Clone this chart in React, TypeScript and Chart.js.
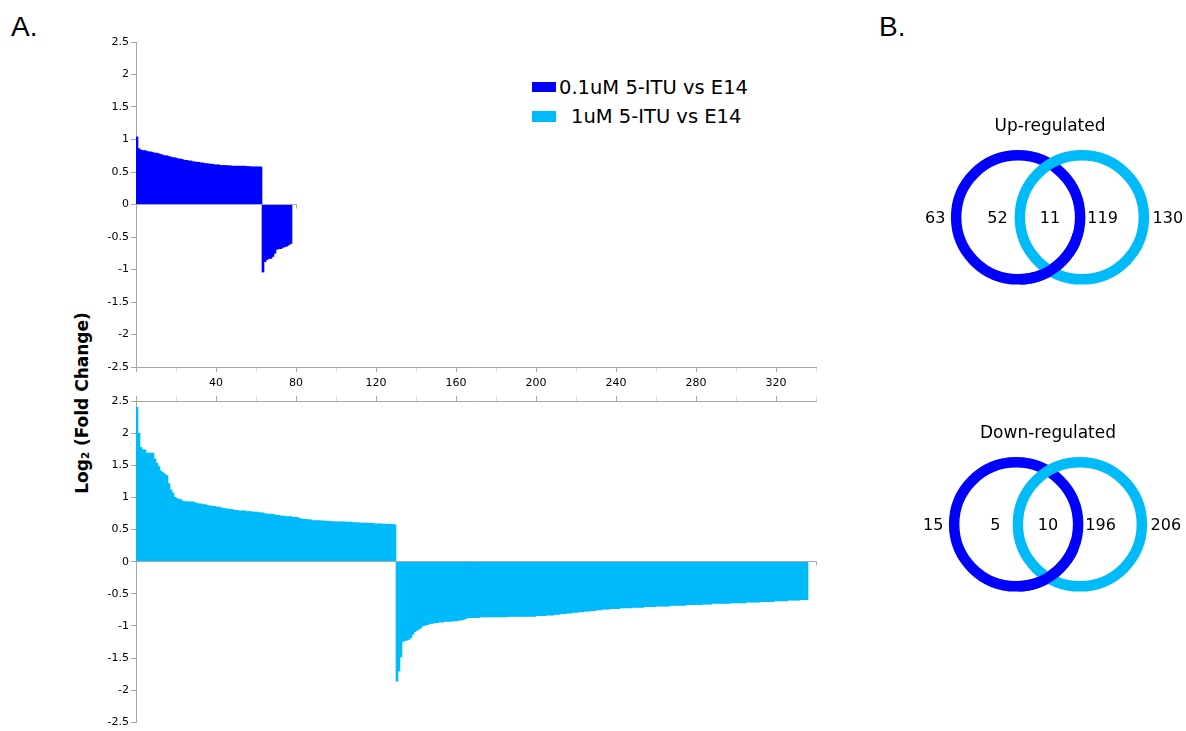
import React, { useEffect, useRef } from 'react';
import { Chart, registerables } from 'chart.js';

Chart.register(...registerables);

const BLUE = '#0000ff';
const CYAN = '#00bbf9';
const AXIS_GRAY = '#a6a6a6';
const MINOR_GRAY = '#dcdcdc';
const FONT = "'DejaVu Sans', sans-serif";
const ARIAL = "'Liberation Sans', Arial, sans-serif";

// ---- data ----
const seriesNames = ['0.1uM 5-ITU vs E14', '1uM 5-ITU vs E14'];

// 0.1uM 5-ITU vs E14, sorted log2 fold changes
const lowUp = [
  1.04, 0.86, 0.84, 0.83, 0.83, 0.82, 0.81, 0.81, 0.80, 0.79,
  0.79, 0.78, 0.77, 0.76, 0.75, 0.75, 0.74, 0.73, 0.72, 0.72,
  0.71, 0.70, 0.70, 0.69, 0.68, 0.68, 0.67, 0.67, 0.66, 0.655,
  0.65, 0.65, 0.64, 0.64, 0.63, 0.63, 0.625, 0.62, 0.62, 0.61,
  0.61, 0.61, 0.60, 0.60, 0.60, 0.60, 0.595, 0.595, 0.59, 0.59,
  0.59, 0.59, 0.59, 0.59, 0.59, 0.585, 0.585, 0.58, 0.58, 0.58,
  0.58, 0.58, 0.578,
];
const lowDown = [
  -1.04, -0.88, -0.85, -0.83, -0.83, -0.80, -0.75, -0.69, -0.68, -0.68,
  -0.66, -0.65, -0.64, -0.62, -0.60,
];

// 1uM 5-ITU vs E14, sorted log2 fold changes
const highUp = [
  2.40, 2.00, 1.78, 1.74, 1.74, 1.69, 1.69, 1.69, 1.69, 1.60,
  1.53, 1.48, 1.41, 1.385, 1.36, 1.34, 1.215, 1.12, 1.07, 1.00,
  0.985, 0.965, 0.965, 0.94, 0.935, 0.935, 0.93, 0.93, 0.93, 0.92,
  0.91, 0.90, 0.90, 0.89, 0.89, 0.88, 0.87, 0.87, 0.86, 0.86,
  0.85, 0.85, 0.84, 0.83, 0.83, 0.82, 0.82, 0.815, 0.81, 0.80,
  0.80, 0.79, 0.79, 0.79, 0.79, 0.78, 0.78, 0.78, 0.77, 0.77,
  0.77, 0.765, 0.76, 0.76, 0.75, 0.74, 0.74, 0.74, 0.735, 0.73,
  0.72, 0.72, 0.71, 0.71, 0.71, 0.70, 0.70, 0.70, 0.69, 0.69,
  0.69, 0.68, 0.67, 0.66, 0.66, 0.66, 0.65, 0.65, 0.64, 0.64,
  0.64, 0.64, 0.635, 0.635, 0.63, 0.63, 0.63, 0.625, 0.625, 0.62,
  0.62, 0.62, 0.62, 0.62, 0.62, 0.615, 0.615, 0.615, 0.61, 0.61,
  0.61, 0.605, 0.60, 0.60, 0.60, 0.60, 0.60, 0.595, 0.595, 0.59,
  0.59, 0.59, 0.59, 0.585, 0.585, 0.585, 0.58, 0.58, 0.58, 0.575,
];
const highDown = [
  -1.86, -1.70, -1.48, -1.24, -1.23, -1.22, -1.21, -1.18, -1.13, -1.09,
  -1.07, -1.05, -1.03, -1.00, -0.99, -0.98, -0.97, -0.96, -0.96, -0.95,
  -0.95, -0.94, -0.94, -0.94, -0.93, -0.93, -0.93, -0.93, -0.92, -0.92,
  -0.92, -0.91, -0.91, -0.90, -0.89, -0.88, -0.87, -0.87, -0.87, -0.87,
  -0.87, -0.87, -0.86, -0.86, -0.86, -0.86, -0.86, -0.86, -0.86, -0.86,
  -0.86, -0.86, -0.86, -0.86, -0.86, -0.86, -0.85, -0.85, -0.85, -0.85,
  -0.85, -0.85, -0.85, -0.85, -0.85, -0.85, -0.85, -0.85, -0.85, -0.85,
  -0.84, -0.84, -0.84, -0.84, -0.84, -0.83, -0.83, -0.83, -0.83, -0.82,
  -0.82, -0.82, -0.81, -0.81, -0.81, -0.80, -0.80, -0.80, -0.79, -0.79,
  -0.79, -0.78, -0.78, -0.78, -0.77, -0.77, -0.77, -0.76, -0.76, -0.76,
  -0.75, -0.75, -0.75, -0.74, -0.74, -0.74, -0.74, -0.73, -0.73, -0.73,
  -0.73, -0.73, -0.72, -0.72, -0.72, -0.72, -0.72, -0.72, -0.71, -0.71,
  -0.71, -0.71, -0.71, -0.71, -0.70, -0.70, -0.70, -0.70, -0.70, -0.70,
  -0.69, -0.69, -0.69, -0.69, -0.69, -0.69, -0.69, -0.68, -0.68, -0.68,
  -0.68, -0.68, -0.68, -0.68, -0.68, -0.67, -0.67, -0.67, -0.67, -0.67,
  -0.67, -0.67, -0.67, -0.66, -0.66, -0.66, -0.66, -0.66, -0.65, -0.65,
  -0.65, -0.65, -0.65, -0.65, -0.65, -0.65, -0.65, -0.64, -0.64, -0.64,
  -0.64, -0.64, -0.64, -0.64, -0.64, -0.63, -0.63, -0.63, -0.63, -0.63,
  -0.63, -0.63, -0.62, -0.62, -0.62, -0.62, -0.62, -0.62, -0.62, -0.61,
  -0.61, -0.61, -0.61, -0.61, -0.61, -0.61, -0.60, -0.60, -0.60, -0.60,
  -0.60, -0.60, -0.59, -0.59, -0.59, -0.59,
];

// axes
const yMin = -2.5;
const yMax = 2.5;
const yStep = 0.5;
const xMax = 340;
const xMinorStep = 20;
const xLabelStep = 40;
const lowAxisEnd = 80;
const highAxisEnd = 340;

// Venn diagrams
const vennUpTitle = 'Up-regulated';
const vennUpCounts = [63, 52, 11, 119, 130];
const vennDownTitle = 'Down-regulated';
const vennDownCounts = [15, 5, 10, 196, 206];

// label slots (in ring-centre units): total A, A only, both, B only, total B
const vennLabelSlots = [-3.6, -1.65, 0, 1.65, 3.7];

function toPoints(up: number[], down: number[]) {
  return [...up, ...down].map((y, i) => ({ x: i + 0.5, y }));
}

function zeroLinePlugin(axisEnd: number) {
  return {
    id: 'zeroLine',
    afterDatasetsDraw(chart: any) {
      const { ctx } = chart;
      const { x, y } = chart.scales;
      const y0 = Math.floor(y.getPixelForValue(0)) + 0.5;
      const x0 = x.getPixelForValue(0);
      const x1 = Math.floor(x.getPixelForValue(axisEnd)) + 0.5;
      ctx.save();
      ctx.strokeStyle = AXIS_GRAY;
      ctx.lineWidth = 1;
      ctx.beginPath();
      ctx.moveTo(x0, y0);
      ctx.lineTo(x1, y0);
      ctx.moveTo(x1, y0);
      ctx.lineTo(x1, y0 + 4);
      ctx.stroke();
      ctx.restore();
    },
  };
}

function barConfig(
  label: string,
  values: { x: number; y: number }[],
  color: string,
  axisEnd: number,
  xPos: 'top' | 'bottom'
): any {
  const isBottom = xPos === 'bottom';
  return {
    type: 'bar',
    data: {
      datasets: [
        {
          label,
          data: values,
          backgroundColor: color,
          borderWidth: 0,
          barPercentage: 1,
          categoryPercentage: 1,
        },
      ],
    },
    options: {
      animation: false,
      responsive: false,
      devicePixelRatio: 1,
      events: [],
      layout: {
        autoPadding: false,
        padding: isBottom
          ? { left: 96, right: 14, top: 42, bottom: 3 }
          : { left: 96, right: 14, top: 0, bottom: 5 },
      },
      plugins: { legend: { display: false }, tooltip: { enabled: false } },
      scales: {
        x: {
          type: 'linear',
          position: xPos,
          min: 0,
          max: xMax,
          offset: false,
          grid: {
            offset: false,
            drawOnChartArea: false,
            drawTicks: true,
            tickLength: 5,
            tickColor: (c: any) =>
              c.tick && c.tick.value % xLabelStep === 0 ? AXIS_GRAY : MINOR_GRAY,
          },
          border: { color: AXIS_GRAY },
          ticks: {
            display: isBottom,
            stepSize: xMinorStep,
            autoSkip: false,
            maxRotation: 0,
            minRotation: 0,
            padding: 5,
            color: '#000',
            font: { family: FONT, size: 11 },
            callback: (v: number) => (v > 0 && v % xLabelStep === 0 ? String(v) : ''),
          },
          afterFit: (s: any) => {
            s.height = isBottom ? 30 : 21;
          },
        },
        y: {
          min: yMin,
          max: yMax,
          grid: {
            drawOnChartArea: false,
            drawTicks: true,
            tickLength: 5,
            tickColor: AXIS_GRAY,
          },
          border: { color: AXIS_GRAY },
          ticks: {
            stepSize: yStep,
            padding: 2,
            color: '#000',
            font: { family: FONT, size: 11 },
            callback: (v: number) => String(Math.round(v * 10) / 10),
          },
          afterFit: (s: any) => {
            s.width = 40;
          },
        },
      },
    },
    plugins: [zeroLinePlugin(axisEnd)],
  };
}

function vennPlugin(title: string, counts: number[]) {
  return {
    id: 'vennText',
    afterDatasetsDraw(chart: any) {
      const { ctx, chartArea } = chart;
      const { x, y } = chart.scales;
      const cx = x.getPixelForValue(0);
      const cy = y.getPixelForValue(0);
      // interlock: first ring passes over the second at the lower crossing
      const el = chart.getDatasetMeta(0).data[0];
      if (el) {
        ctx.save();
        ctx.beginPath();
        ctx.rect(cx - 30, cy + 15, 60, 70);
        ctx.clip();
        el.draw(ctx, chartArea);
        ctx.restore();
      }
      ctx.save();
      ctx.fillStyle = '#000';
      ctx.textAlign = 'center';
      ctx.textBaseline = 'alphabetic';
      ctx.font = `17px ${FONT}`;
      ctx.fillText(title, cx, y.getPixelForValue(2.89) + 0.3645 * 17);
      ctx.font = `16px ${FONT}`;
      counts.forEach((n, i) => {
        ctx.fillText(String(n), x.getPixelForValue(vennLabelSlots[i]), cy + 0.3645 * 16);
      });
      ctx.restore();
    },
  };
}

function vennConfig(title: string, counts: number[]): any {
  const ring = (label: string, cxv: number, color: string, order: number) => ({
    label,
    data: [{ x: cxv, y: 0 }],
    order,
    clip: false,
    pointRadius: 62,
    pointHoverRadius: 62,
    pointBorderWidth: 10.5,
    pointHoverBorderWidth: 10.5,
    pointBackgroundColor: 'rgba(0,0,0,0)',
    pointBorderColor: color,
  });
  return {
    type: 'scatter',
    data: {
      datasets: [ring(seriesNames[0], -1, BLUE, 2), ring(seriesNames[1], 1, CYAN, 1)],
    },
    options: {
      animation: false,
      responsive: false,
      devicePixelRatio: 1,
      events: [],
      layout: { autoPadding: false, padding: 0 },
      plugins: { legend: { display: false }, tooltip: { enabled: false } },
      scales: {
        x: { display: false, min: -4.3, max: 4.3 },
        y: { display: false, min: -2.4, max: 3.3 },
      },
    },
    plugins: [vennPlugin(title, counts)],
  };
}

export default function App() {
  const topRef = useRef<HTMLCanvasElement>(null);
  const botRef = useRef<HTMLCanvasElement>(null);
  const vUpRef = useRef<HTMLCanvasElement>(null);
  const vDownRef = useRef<HTMLCanvasElement>(null);

  useEffect(() => {
    Chart.defaults.font.family = FONT;
    const charts: Chart[] = [];
    if (topRef.current)
      charts.push(
        new Chart(
          topRef.current,
          barConfig(seriesNames[0], toPoints(lowUp, lowDown), BLUE, lowAxisEnd, 'bottom')
        )
      );
    if (botRef.current)
      charts.push(
        new Chart(
          botRef.current,
          barConfig(seriesNames[1], toPoints(highUp, highDown), CYAN, highAxisEnd, 'top')
        )
      );
    if (vUpRef.current) charts.push(new Chart(vUpRef.current, vennConfig(vennUpTitle, vennUpCounts)));
    if (vDownRef.current)
      charts.push(new Chart(vDownRef.current, vennConfig(vennDownTitle, vennDownCounts)));
    return () => charts.forEach((c) => c.destroy());
  }, []);

  const abs = (o: React.CSSProperties): React.CSSProperties => ({ position: 'absolute', ...o });

  return (
    <div
      style={{
        position: 'fixed',
        left: 0,
        top: 0,
        width: 1186,
        height: 731,
        background: '#fff',
        overflow: 'hidden',
        fontFamily: FONT,
        color: '#000',
      }}
    >
      <div style={abs({ left: 11, top: 13, fontFamily: ARIAL, fontSize: 28, lineHeight: 1 })}>A.</div>
      <div style={abs({ left: 879, top: 13, fontFamily: ARIAL, fontSize: 28, lineHeight: 1 })}>B.</div>

      <div
        style={abs({
          left: 82,
          top: 403,
          transform: 'translate(-50%, -50%) rotate(-90deg)',
          fontWeight: 'bold',
          fontSize: 17,
          whiteSpace: 'nowrap',
          lineHeight: 1,
        })}
      >
        Log<sub style={{ fontSize: '0.6em', verticalAlign: '-0.15em', lineHeight: 0 }}>2</sub> (Fold Change)
      </div>

      <div style={abs({ left: 532, top: 82, width: 24, height: 10, background: BLUE })} />
      <div style={abs({ left: 559, top: 78, fontSize: 19.5, lineHeight: 1, whiteSpace: 'nowrap' })}>
        {seriesNames[0]}
      </div>
      <div style={abs({ left: 532, top: 111, width: 24, height: 11, background: CYAN })} />
      <div style={abs({ left: 571, top: 107, fontSize: 19.5, lineHeight: 1, whiteSpace: 'nowrap' })}>
        {seriesNames[1]}
      </div>

      <canvas ref={topRef} width={830} height={400} style={abs({ left: 0, top: 0, width: 830, height: 400 })} />
      <canvas ref={botRef} width={830} height={351} style={abs({ left: 0, top: 380, width: 830, height: 351 })} />
      <canvas ref={vUpRef} width={274} height={182} style={abs({ left: 913, top: 112, width: 274, height: 182 })} />
      <canvas ref={vDownRef} width={274} height={182} style={abs({ left: 911, top: 419, width: 274, height: 182 })} />
    </div>
  );
}
